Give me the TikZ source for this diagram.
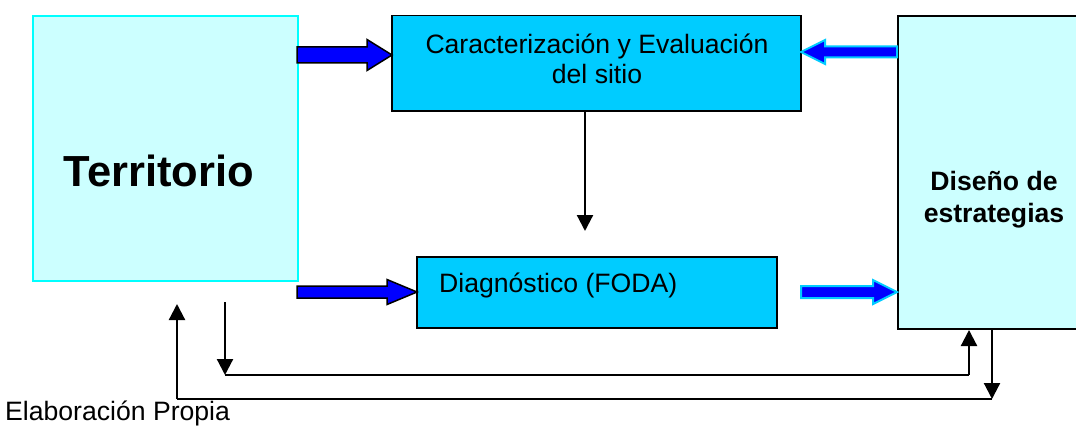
\documentclass[tikz,border=0pt]{standalone}
\usepackage{fontspec}
\setmainfont{Liberation Sans}
\usetikzlibrary{arrows.meta,calc}
\definecolor{boxcyan}{HTML}{00CCFF}
\definecolor{lightcyan}{HTML}{CCFFFF}
\definecolor{terrborder}{HTML}{00FFFF}
\definecolor{arrblue}{HTML}{0000FF}
\newcommand\blockarr[7]{%
  \filldraw[#1] (#2,#4-#5) -- (#3-#7,#4-#5) -- (#3-#7,#4-#6) -- (#3,#4)
    -- (#3-#7,#4+#6) -- (#3-#7,#4+#5) -- (#2,#4+#5) -- cycle;}
\begin{document}
\begin{tikzpicture}[x=1pt,y=-1pt,
  box/.style={draw=black,line width=1.5pt,fill=boxcyan,anchor=north west,inner sep=0pt},
  lbox/.style={draw=black,line width=2pt,fill=lightcyan,anchor=north west,inner sep=0pt},
  txt/.style={font=\fontsize{26.6}{30}\selectfont,inner sep=0pt,align=center},
  thin/.style={line width=2.2pt,-{Triangle[width=16pt,length=16pt]}},
  plain/.style={line width=2.2pt},
  blkA/.style={fill=arrblue,draw=black,line width=1.5pt,line join=miter},
  blkB/.style={fill=arrblue,draw=boxcyan,line width=2pt,line join=miter}]
\useasboundingbox (0,0) rectangle (1076,428);
\clip (0,0) rectangle (1076,428);
\fill[white] (0,0) rectangle (1076,428);
% boxes
\node[draw=terrborder,line width=2pt,fill=lightcyan,anchor=north west,inner sep=0pt,
      minimum width=265pt,minimum height=265pt] (terr) at (32,15) {};
\node[box,minimum width=409pt,minimum height=95pt] (carac) at (391,15) {};
\node[box,minimum width=360pt,minimum height=71pt] (diag) at (416,256) {};
\node[lbox,minimum width=196pt,minimum height=313pt] (dis) at (897,15) {};
% texts
\node[inner sep=0pt,font=\fontsize{43.5}{48}\selectfont\bfseries] (terrt) at (159,171) {Territorio};
\node[txt] (caract) at (597,59) {Caracterización y Evaluación\\del sitio};
\node[txt,anchor=west] (diagt) at (439,285) {Diagnóstico (FODA)};
\node[txt,font=\fontsize{26.6}{32}\selectfont\bfseries] (dist) at (994,200) {Diseño de\\estrategias};
\node[txt,anchor=west] (elab) at (5,413) {Elaboración Propia};
% block arrows
\blockarr{blkA}{297}{392}{55}{8}{15.5}{25}
\blockarr{blkB}{897}{801}{52}{5.5}{12}{-24}
\blockarr{blkA}{297}{417}{292}{6}{12.5}{30}
\blockarr{blkB}{801}{897}{292}{6}{12}{24}
% thin arrows
\coordinate (cA) at (585,231);
\draw[thin] (carac.south -| cA) -- (cA);
\coordinate (tA) at (225,302);
\coordinate (tB) at (225,375);
\coordinate (dA) at (969,375);
\draw[thin] (tA) -- (tB);
\draw[plain] (tB) -- (dA);
\draw[thin] (dA) -- (dis.south -| dA);
\coordinate (dB) at (992,399);
\coordinate (tC) at (177,399);
\coordinate (tD) at (177,304);
\draw[thin] (dis.south -| dB) -- (dB);
\draw[plain] (dB) -- (tC);
\draw[thin] (tC) -- (tD);
\end{tikzpicture}
\end{document}
